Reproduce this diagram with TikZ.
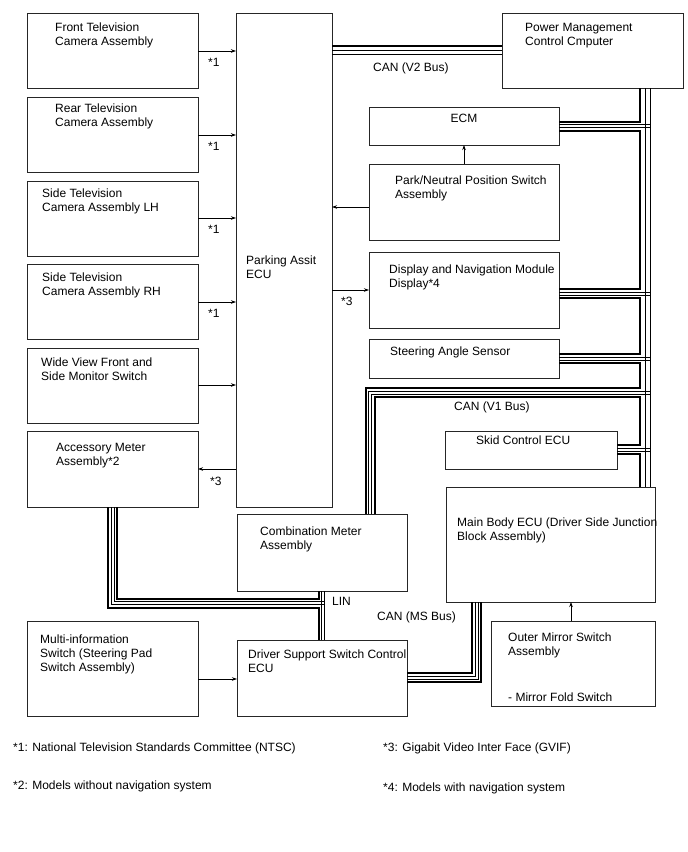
\documentclass[tikz,border=0pt]{standalone}
\usepackage{fontspec}
\setmainfont{Liberation Sans}
\usetikzlibrary{arrows.meta}
\begin{document}
\begin{tikzpicture}[x=1pt,y=-1pt,
  box/.style={draw=black!85, line width=0.8pt, anchor=north west, inner sep=0pt, outer sep=0pt},
  txt/.style={anchor=base west, align=left, inner sep=0pt, font=\fontsize{12}{14}\selectfont},
  thk/.style={line width=2pt, line cap=butt},
  thn/.style={line width=0.9pt},
  arr/.style={line width=0.8pt, -{Stealth[length=5pt,width=3.5pt]}}]
\fill[white] (0,0) rectangle (688,852);
\useasboundingbox (0,0) rectangle (688,852);
% boxes
\node[box, minimum width=171pt, minimum height=75pt] (ft) at (27,13) {};
\node[box, minimum width=171pt, minimum height=75pt] (rt) at (27,97) {};
\node[box, minimum width=171pt, minimum height=75pt] (slh) at (27,181) {};
\node[box, minimum width=171pt, minimum height=75pt] (srh) at (27,264) {};
\node[box, minimum width=171pt, minimum height=75pt] (wv) at (27,348) {};
\node[box, minimum width=171pt, minimum height=76pt] (am) at (27,431) {};
\node[box, minimum width=171pt, minimum height=95pt] (mi) at (27,621) {};
\node[box, minimum width=96pt, minimum height=494pt] (pa) at (236,13) {};
\node[box, minimum width=181pt, minimum height=75pt] (pm) at (502,13) {};
\node[box, minimum width=190pt, minimum height=38pt] (ecm) at (369,107) {};
\node[box, minimum width=190pt, minimum height=76pt] (pn) at (369,164) {};
\node[box, minimum width=190pt, minimum height=76pt] (dnm) at (369,252) {};
\node[box, minimum width=190pt, minimum height=39pt] (sas) at (369,339) {};
\node[box, minimum width=172pt, minimum height=38pt] (skid) at (445,431) {};
\node[box, minimum width=209pt, minimum height=115pt] (mb) at (446,487) {};
\node[box, minimum width=164pt, minimum height=85pt] (om) at (491,621) {};
\node[box, minimum width=170pt, minimum height=77pt] (cm) at (237,514) {};
\node[box, minimum width=170pt, minimum height=76pt] (dss) at (237,640) {};
% box texts (base = baseline of last line)
\node[txt] (ftt) at (55,45) {Front Television\\Camera Assembly};
\node[txt] (rtt) at (55,126) {Rear Television\\Camera Assembly};
\node[txt] (slht) at (42,211) {Side Television\\Camera Assembly LH};
\node[txt] (srht) at (42,295) {Side Television\\Camera Assembly RH};
\node[txt] (wvt) at (41,380) {Wide View Front and\\Side Monitor Switch};
\node[txt] (amt) at (56,465) {Accessory Meter\\Assembly*2};
\node[txt] (mit) at (40,671) {Multi-information\\Switch (Steering Pad\\Switch Assembly)};
\node[txt] (pat) at (246,278) {Parking Assit\\ECU};
\node[txt] (pmt) at (525,45) {Power Management\\Control Cmputer};
\node[txt, anchor=base] (ecmt) at (464,122) {ECM};
\node[txt] (pnt) at (395,198) {Park/Neutral Position Switch\\Assembly};
\node[txt] (dnmt) at (389,287) {Display and Navigation Module\\Display*4};
\node[txt] (sast) at (390,355) {Steering Angle Sensor};
\node[txt] (skidt) at (476,444) {Skid Control ECU};
\node[txt] (mbt) at (457,540) {Main Body ECU (Driver Side Junction\\Block Assembly)};
\node[txt] (omt) at (508,701) {Outer Mirror Switch\\Assembly\\[32pt]- Mirror Fold Switch};
\node[txt] (cmt) at (260,549) {Combination Meter\\Assembly};
\node[txt] (dsst) at (248,672) {Driver Support Switch Control\\ECU};
% bus labels
\node[txt] (v2l) at (373,71) {CAN (V2 Bus)};
\node[txt] (v1l) at (454,410) {CAN (V1 Bus)};
\node[txt] (linl) at (332,605) {LIN};
\node[txt] (msl) at (377,620) {CAN (MS Bus)};
% V2 bus
\draw[thk] (pa.east |- 0,46) -- (pm.west |- 0,46);
\draw[thn] (pa.east |- 0,50.5) -- (pm.west |- 0,50.5);
\draw[thn] (pa.east |- 0,54) -- (pm.west |- 0,54);
% V1 trunk
\draw[thn] (pm.south -| 645,0) -- (mb.north -| 645,0);
\draw[thn] (pm.south -| 650,0) -- (mb.north -| 650,0);
\draw[thk] (pm.south -| 640,0) -- (640,121.5) -- (ecm.east |- 0,121.5);
\draw[thk] (ecm.east |- 0,130.5) -- (640,130.5) -- (640,289) -- (dnm.east |- 0,289);
\draw[thk] (dnm.east |- 0,298) -- (640,298) -- (640,354) -- (sas.east |- 0,354);
\draw[thk] (sas.east |- 0,363) -- (640,363) -- (640,388) -- (365.5,388) -- (cm.north -| 365.5,0);
\draw[thk] (cm.north -| 374.5,0) -- (374.5,397) -- (640,397) -- (640,445) -- (skid.east |- 0,445);
\draw[thk] (skid.east |- 0,454) -- (640,454) -- (mb.north -| 640,0);
\draw[thn] (ecm.east |- 0,124.5) -- (650,124.5);
\draw[thn] (ecm.east |- 0,127.5) -- (650,127.5);
\draw[thn] (dnm.east |- 0,292) -- (650,292);
\draw[thn] (dnm.east |- 0,295) -- (650,295);
\draw[thn] (sas.east |- 0,357) -- (650,357);
\draw[thn] (sas.east |- 0,360) -- (650,360);
\draw[thn] (skid.east |- 0,448) -- (650,448);
\draw[thn] (skid.east |- 0,451) -- (650,451);
\draw[thn] (cm.north -| 368.5,0) -- (368.5,391) -- (650,391);
\draw[thn] (cm.north -| 371.5,0) -- (371.5,394) -- (650,394);
% LIN
\draw[thk] (am.south -| 117,0) -- (117,598.5) -- (318.5,598.5) -- (cm.south -| 318.5,0);
\draw[thk] (am.south -| 108,0) -- (108,607.5) -- (318.5,607.5) -- (dss.north -| 318.5,0);
\draw[thn] (am.south -| 111,0) -- (111,604.5) -- (324.5,604.5);
\draw[thn] (am.south -| 114,0) -- (114,601.5) -- (324.5,601.5);
\draw[thn] (cm.south -| 321.5,0) -- (dss.north -| 321.5,0);
\draw[thn] (cm.south -| 324.5,0) -- (dss.north -| 324.5,0);
% MS bus
\draw[thk] (mb.south -| 471.5,0) -- (471.5,673) -- (dss.east |- 0,673);
\draw[thn] (mb.south -| 475,0) -- (475,676) -- (dss.east |- 0,676);
\draw[thn] (mb.south -| 478,0) -- (478,679) -- (dss.east |- 0,679);
\draw[thk] (mb.south -| 481,0) -- (481,682) -- (dss.east |- 0,682);
% signal arrows
\draw[arr] (ft.east |- 0,51) -- (pa.west |- 0,51);
\draw[arr] (rt.east |- 0,135) -- (pa.west |- 0,135);
\draw[arr] (slh.east |- 0,218) -- (pa.west |- 0,218);
\draw[arr] (srh.east |- 0,302) -- (pa.west |- 0,302);
\draw[arr] (wv.east |- 0,385) -- (pa.west |- 0,385);
\draw[arr] (pa.west |- 0,469) -- (am.east |- 0,469);
\draw[arr] (pn.west |- 0,207) -- (pa.east |- 0,207);
\draw[arr] (pn.north -| 464,0) -- (ecm.south -| 464,0);
\draw[arr] (pa.east |- 0,290) -- (dnm.west |- 0,290);
\draw[arr] (om.north -| 571,0) -- (mb.south -| 571,0);
\draw[arr] (mi.east |- 0,679) -- (dss.west |- 0,679);
% arrow labels
\node[txt] (n1a) at (208,66) {*1};
\node[txt] (n1b) at (208,150) {*1};
\node[txt] (n1c) at (208,233) {*1};
\node[txt] (n1d) at (208,317) {*1};
\node[txt] (n3a) at (210,485) {*3};
\node[txt] (n3b) at (341,305) {*3};
% footnotes
\node[txt] (fn1) at (13,751) {*1: National Television Standards Committee (NTSC)};
\node[txt] (fn3) at (383,751) {*3: Gigabit Video Inter Face (GVIF)};
\node[txt] (fn2) at (13,789) {*2: Models without navigation system};
\node[txt] (fn4) at (383,791) {*4: Models with navigation system};
\end{tikzpicture}
\end{document}
